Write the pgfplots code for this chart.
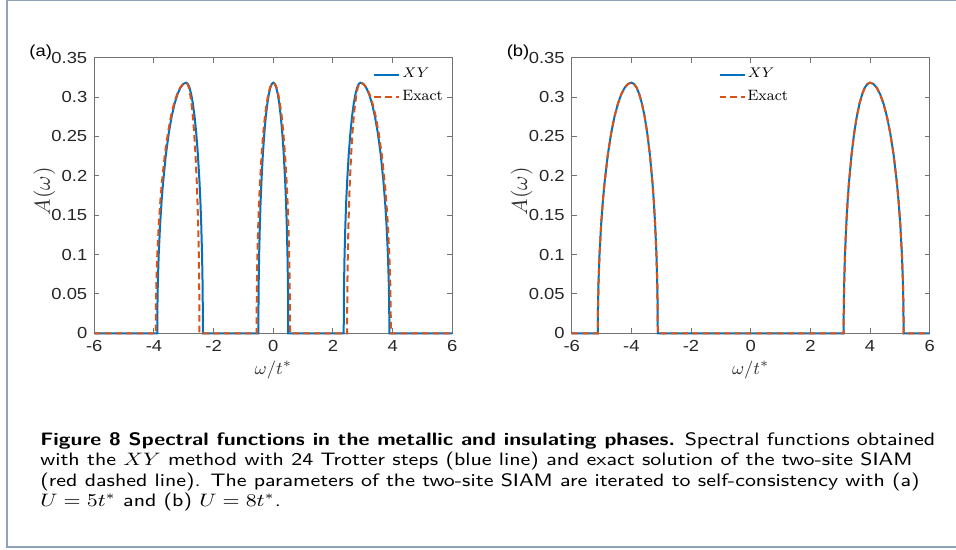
\documentclass[border=0pt]{standalone}
\usepackage{fontspec}
\usepackage{pgfplots}
\usepackage{pgfplotstable}
\pgfplotsset{compat=1.18}
\newfontfamily\tickfont{Liberation Sans}
\newcommand\tl[1]{\scalebox{1.15}[1]{#1}}
\definecolor{mblue}{HTML}{0072BD}
\definecolor{mred}{HTML}{D95319}
\definecolor{framec}{HTML}{8EA3BA}

% panel (a): XY, 24 Trotter steps
\pgfplotstableread{
x y
-6 0
-3.890 0
-3.885 0.0318
-3.871 0.0633
-3.842 0.0994
-3.793 0.1387
-3.745 0.1677
-3.696 0.1910
-3.599 0.2273
-3.502 0.2546
-3.405 0.2757
-3.308 0.2917
-3.211 0.3036
-3.114 0.3119
-3.017 0.3167
-2.920 0.3183
-2.864 0.3167
-2.808 0.3119
-2.752 0.3036
-2.696 0.2917
-2.640 0.2757
-2.584 0.2546
-2.528 0.2273
-2.472 0.1910
-2.444 0.1677
-2.416 0.1387
-2.388 0.0994
-2.371 0.0633
-2.363 0.0318
-2.360 0
-0.500 0
-0.4975 0.0318
-0.490 0.0633
-0.475 0.0994
-0.450 0.1387
-0.425 0.1677
-0.400 0.1910
-0.350 0.2273
-0.300 0.2546
-0.250 0.2757
-0.200 0.2917
-0.150 0.3036
-0.100 0.3119
-0.050 0.3167
0 0.3183
0.050 0.3167
0.100 0.3119
0.150 0.3036
0.200 0.2917
0.250 0.2757
0.300 0.2546
0.350 0.2273
0.400 0.1910
0.425 0.1677
0.450 0.1387
0.475 0.0994
0.490 0.0633
0.4975 0.0318
0.500 0
2.360 0
2.363 0.0318
2.371 0.0633
2.388 0.0994
2.416 0.1387
2.444 0.1677
2.472 0.1910
2.528 0.2273
2.584 0.2546
2.640 0.2757
2.696 0.2917
2.752 0.3036
2.808 0.3119
2.864 0.3167
2.920 0.3183
3.017 0.3167
3.114 0.3119
3.211 0.3036
3.308 0.2917
3.405 0.2757
3.502 0.2546
3.599 0.2273
3.696 0.1910
3.745 0.1677
3.793 0.1387
3.842 0.0994
3.871 0.0633
3.885 0.0318
3.890 0
6 0
}\xya

% panel (a): exact
\pgfplotstableread{
x y
-6 0
-3.940 0
-3.935 0.0318
-3.920 0.0633
-3.889 0.0994
-3.838 0.1387
-3.787 0.1677
-3.736 0.1910
-3.634 0.2273
-3.532 0.2546
-3.430 0.2757
-3.328 0.2917
-3.226 0.3036
-3.124 0.3119
-3.022 0.3167
-2.920 0.3183
-2.876 0.3167
-2.831 0.3119
-2.787 0.3036
-2.742 0.2917
-2.698 0.2757
-2.653 0.2546
-2.609 0.2273
-2.564 0.1910
-2.542 0.1677
-2.520 0.1387
-2.497 0.0994
-2.484 0.0633
-2.477 0.0318
-2.475 0
-0.560 0
-0.557 0.0318
-0.549 0.0633
-0.532 0.0994
-0.504 0.1387
-0.476 0.1677
-0.448 0.1910
-0.392 0.2273
-0.336 0.2546
-0.280 0.2757
-0.224 0.2917
-0.168 0.3036
-0.112 0.3119
-0.056 0.3167
0 0.3183
0.056 0.3167
0.112 0.3119
0.168 0.3036
0.224 0.2917
0.280 0.2757
0.336 0.2546
0.392 0.2273
0.448 0.1910
0.476 0.1677
0.504 0.1387
0.532 0.0994
0.549 0.0633
0.557 0.0318
0.560 0
2.475 0
2.477 0.0318
2.484 0.0633
2.497 0.0994
2.520 0.1387
2.542 0.1677
2.564 0.1910
2.609 0.2273
2.653 0.2546
2.698 0.2757
2.742 0.2917
2.787 0.3036
2.831 0.3119
2.876 0.3167
2.920 0.3183
3.022 0.3167
3.124 0.3119
3.226 0.3036
3.328 0.2917
3.430 0.2757
3.532 0.2546
3.634 0.2273
3.736 0.1910
3.787 0.1677
3.838 0.1387
3.889 0.0994
3.920 0.0633
3.935 0.0318
3.940 0
6 0
}\exa

% panel (b): XY and exact coincide
\pgfplotstableread{
x y
-6 0
-5.125 0
-5.119 0.0318
-5.103 0.0633
-5.069 0.0994
-5.013 0.1387
-4.956 0.1677
-4.900 0.1910
-4.788 0.2273
-4.675 0.2546
-4.563 0.2757
-4.450 0.2917
-4.338 0.3036
-4.225 0.3119
-4.113 0.3167
-4.000 0.3183
-3.912 0.3167
-3.823 0.3119
-3.735 0.3036
-3.646 0.2917
-3.558 0.2757
-3.469 0.2546
-3.381 0.2273
-3.292 0.1910
-3.248 0.1677
-3.204 0.1387
-3.159 0.0994
-3.133 0.0633
-3.119 0.0318
-3.115 0
3.115 0
3.119 0.0318
3.133 0.0633
3.159 0.0994
3.204 0.1387
3.248 0.1677
3.292 0.1910
3.381 0.2273
3.469 0.2546
3.558 0.2757
3.646 0.2917
3.735 0.3036
3.823 0.3119
3.912 0.3167
4.000 0.3183
4.113 0.3167
4.225 0.3119
4.338 0.3036
4.450 0.2917
4.563 0.2757
4.675 0.2546
4.788 0.2273
4.900 0.1910
4.956 0.1677
5.013 0.1387
5.069 0.0994
5.103 0.0633
5.119 0.0318
5.125 0
6 0
}\specb

\pgfplotsset{
  spec/.style={
    width=179pt, height=137.8pt, scale only axis,
    xmin=-6, xmax=6, ymin=0, ymax=0.35,
    xtick={-6,-4,-2,0,2,4,6},
    xticklabels={\tl{-6},\tl{-4},\tl{-2},\tl{0},\tl{2},\tl{4},\tl{6}},
    ytick={0,0.05,0.1,0.15,0.2,0.25,0.3,0.35},
    yticklabels={\tl{0},\tl{0.05},\tl{0.1},\tl{0.15},\tl{0.2},\tl{0.25},\tl{0.3},\tl{0.35}},
    tick align=inside, major tick length=2.5pt,
    axis line style={black!55, line width=0.5pt},
    tick style={black!55, line width=0.5pt},
    ticklabel style={font=\tickfont\fontsize{8}{9}\selectfont, text=black!85},
    xlabel={$\omega/t^*$}, ylabel={$A(\omega)$},
    xlabel style={font=\fontsize{9.5}{11}\selectfont, text=black!80,
      at={(axis description cs:0.5,0)}, anchor=center, yshift=-18.3pt},
    ylabel style={font=\fontsize{10.5}{12}\selectfont, text=black!80,
      at={(axis description cs:-0.1397,0.516)}, anchor=center},
    clip=false,
    legend cell align=left,
    legend image code/.code={\draw[#1] (0pt,0pt) -- (12.5pt,0pt);},
    legend style={draw=none, fill=none, inner sep=0pt, row sep=2.5pt,
      font=\fontsize{7.5}{8}\selectfont, anchor=north west,
      nodes={inner sep=1pt}},
  },
  xyline/.style={mblue, line width=1pt},
  exline/.style={mred, line width=1pt, dash pattern=on 3.3pt off 2pt},
}

\begin{document}
\begin{tikzpicture}
\useasboundingbox (0pt,0pt) rectangle (478pt,-275pt);
\draw[framec, line width=1pt] (3.5pt,0.2pt) rectangle (490pt,-273.3pt);

\begin{axis}[spec, at={(47.15pt,-166.65pt)}, anchor=south west,
    legend style={at={(axis description cs:0.7785,0.97)}}]
\addplot[xyline] table {\xya};
\addplot[exline] table {\exa};
\legend{$XY$, Exact}
\end{axis}

\begin{axis}[spec, at={(285.85pt,-166.65pt)}, anchor=south west,
    legend style={at={(axis description cs:0.409,0.97)}}]
\addplot[xyline] table {\specb};
\addplot[exline] table {\specb};
\legend{$XY$, Exact}
\end{axis}

\node[anchor=base west, inner sep=0, font=\tickfont\fontsize{8}{9}\selectfont] at (14.5pt,-28.5pt) {\tl{(a)}};
\node[anchor=base west, inner sep=0, font=\tickfont\fontsize{8}{9}\selectfont] at (253.2pt,-28.5pt) {\tl{(b)}};

\begin{scope}[every node/.style={anchor=base west, inner sep=0, font=\sffamily\fontsize{9}{10}\selectfont}]
\node at (20pt,-222.5pt) {\scalebox{1.184}[1]{{\bfseries Figure 8 Spectral functions in the metallic and insulating phases.} Spectral functions obtained}};
\node at (20pt,-232.8pt) {\scalebox{1.184}[1]{with the $XY$ method with 24 Trotter steps (blue line) and exact solution of the two-site SIAM}};
\node at (20pt,-243.1pt) {\scalebox{1.184}[1]{(red dashed line). The parameters of the two-site SIAM are iterated to self-consistency with (a)}};
\node at (20pt,-253.4pt) {\scalebox{1.184}[1]{$U=5t^*$ and (b) $U=8t^*$.}};
\end{scope}
\end{tikzpicture}
\end{document}
